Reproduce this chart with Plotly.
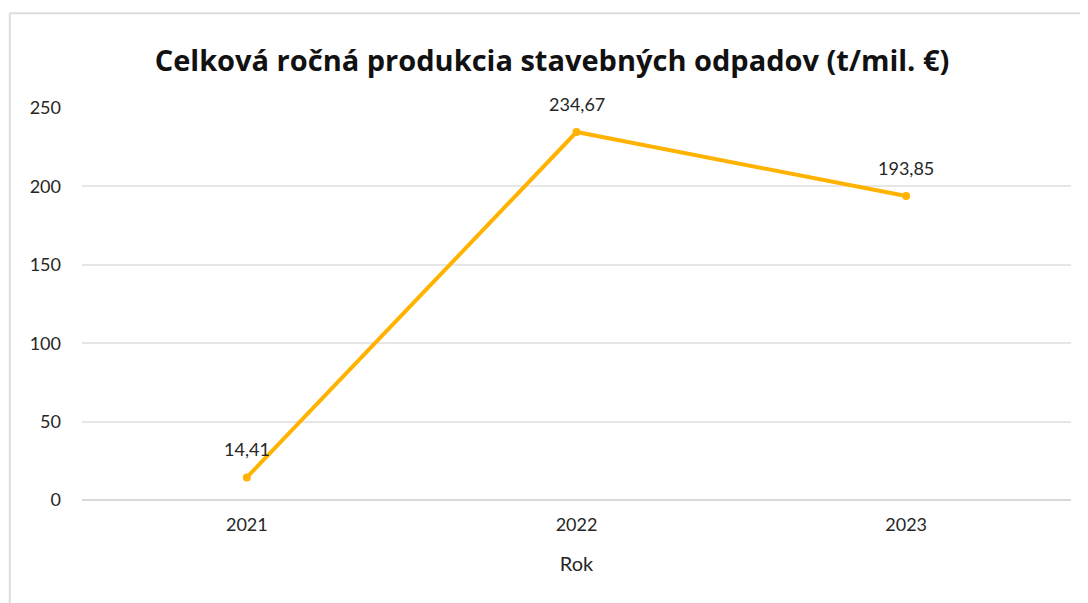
import plotly.graph_objects as go

years = ["2021", "2022", "2023"]
values = [14.41, 234.67, 193.85]
y_ticks = [0, 50, 100, 150, 200, 250]

fig = go.Figure()
fig.add_trace(go.Scatter(
    x=years, y=values,
    mode="lines+markers",
    line=dict(color="#FFB300", width=4),
    marker=dict(color="#FFB300", size=8),
    hoverinfo="skip",
))

annotations = [
    dict(x=i, y=yv, text=f"{yv:.2f}".replace(".", ","), showarrow=False,
         xref="x", yref="y", yshift=28,
         font=dict(family="Lato, Open Sans, sans-serif", size=18, color="#262626"))
    for i, yv in enumerate(values)
]

fig.update_layout(
    width=1088, height=603,
    paper_bgcolor="white", plot_bgcolor="white",
    margin=dict(l=74, r=25, t=100, b=111),
    showlegend=False,
    title=dict(
        text="<b>Celková ročná produkcia stavebných odpadov (t/mil. €)</b>",
        x=0.5, xanchor="center", y=0.913, yanchor="middle",
        font=dict(family="Open Sans, sans-serif", size=29, color="#111111"),
    ),
    font=dict(family="Lato, Open Sans, sans-serif", color="#262626"),
    xaxis=dict(
        type="category", showgrid=False, showline=False, zeroline=False,
        tickfont=dict(size=18, color="#262626"), ticks="",
        ticklabelstandoff=12,
        title=dict(text="Rok", font=dict(size=20, color="#262626"), standoff=22),
        range=[-0.5, 2.5],
    ),
    yaxis=dict(
        range=[0, 250], tickvals=y_ticks,
        showgrid=True, gridcolor="#e6e6e6", gridwidth=1.5,
        zeroline=True, zerolinecolor="#d9d9d9", zerolinewidth=2,
        showline=False, ticks="", ticklen=0,
        tickfont=dict(size=18, color="#262626"),
        ticklabelstandoff=20,
    ),
    annotations=annotations,
    shapes=[
        dict(type="line", xref="paper", yref="paper", x0=-0.073, x1=1.03, y0=1.242, y1=1.242,
             line=dict(color="#dcdcdc", width=2)),
        dict(type="line", xref="paper", yref="paper", x0=-0.073, x1=-0.073, y0=-0.3, y1=1.242,
             line=dict(color="#dcdcdc", width=2)),
    ],
)

fig.write_html("out.html")
